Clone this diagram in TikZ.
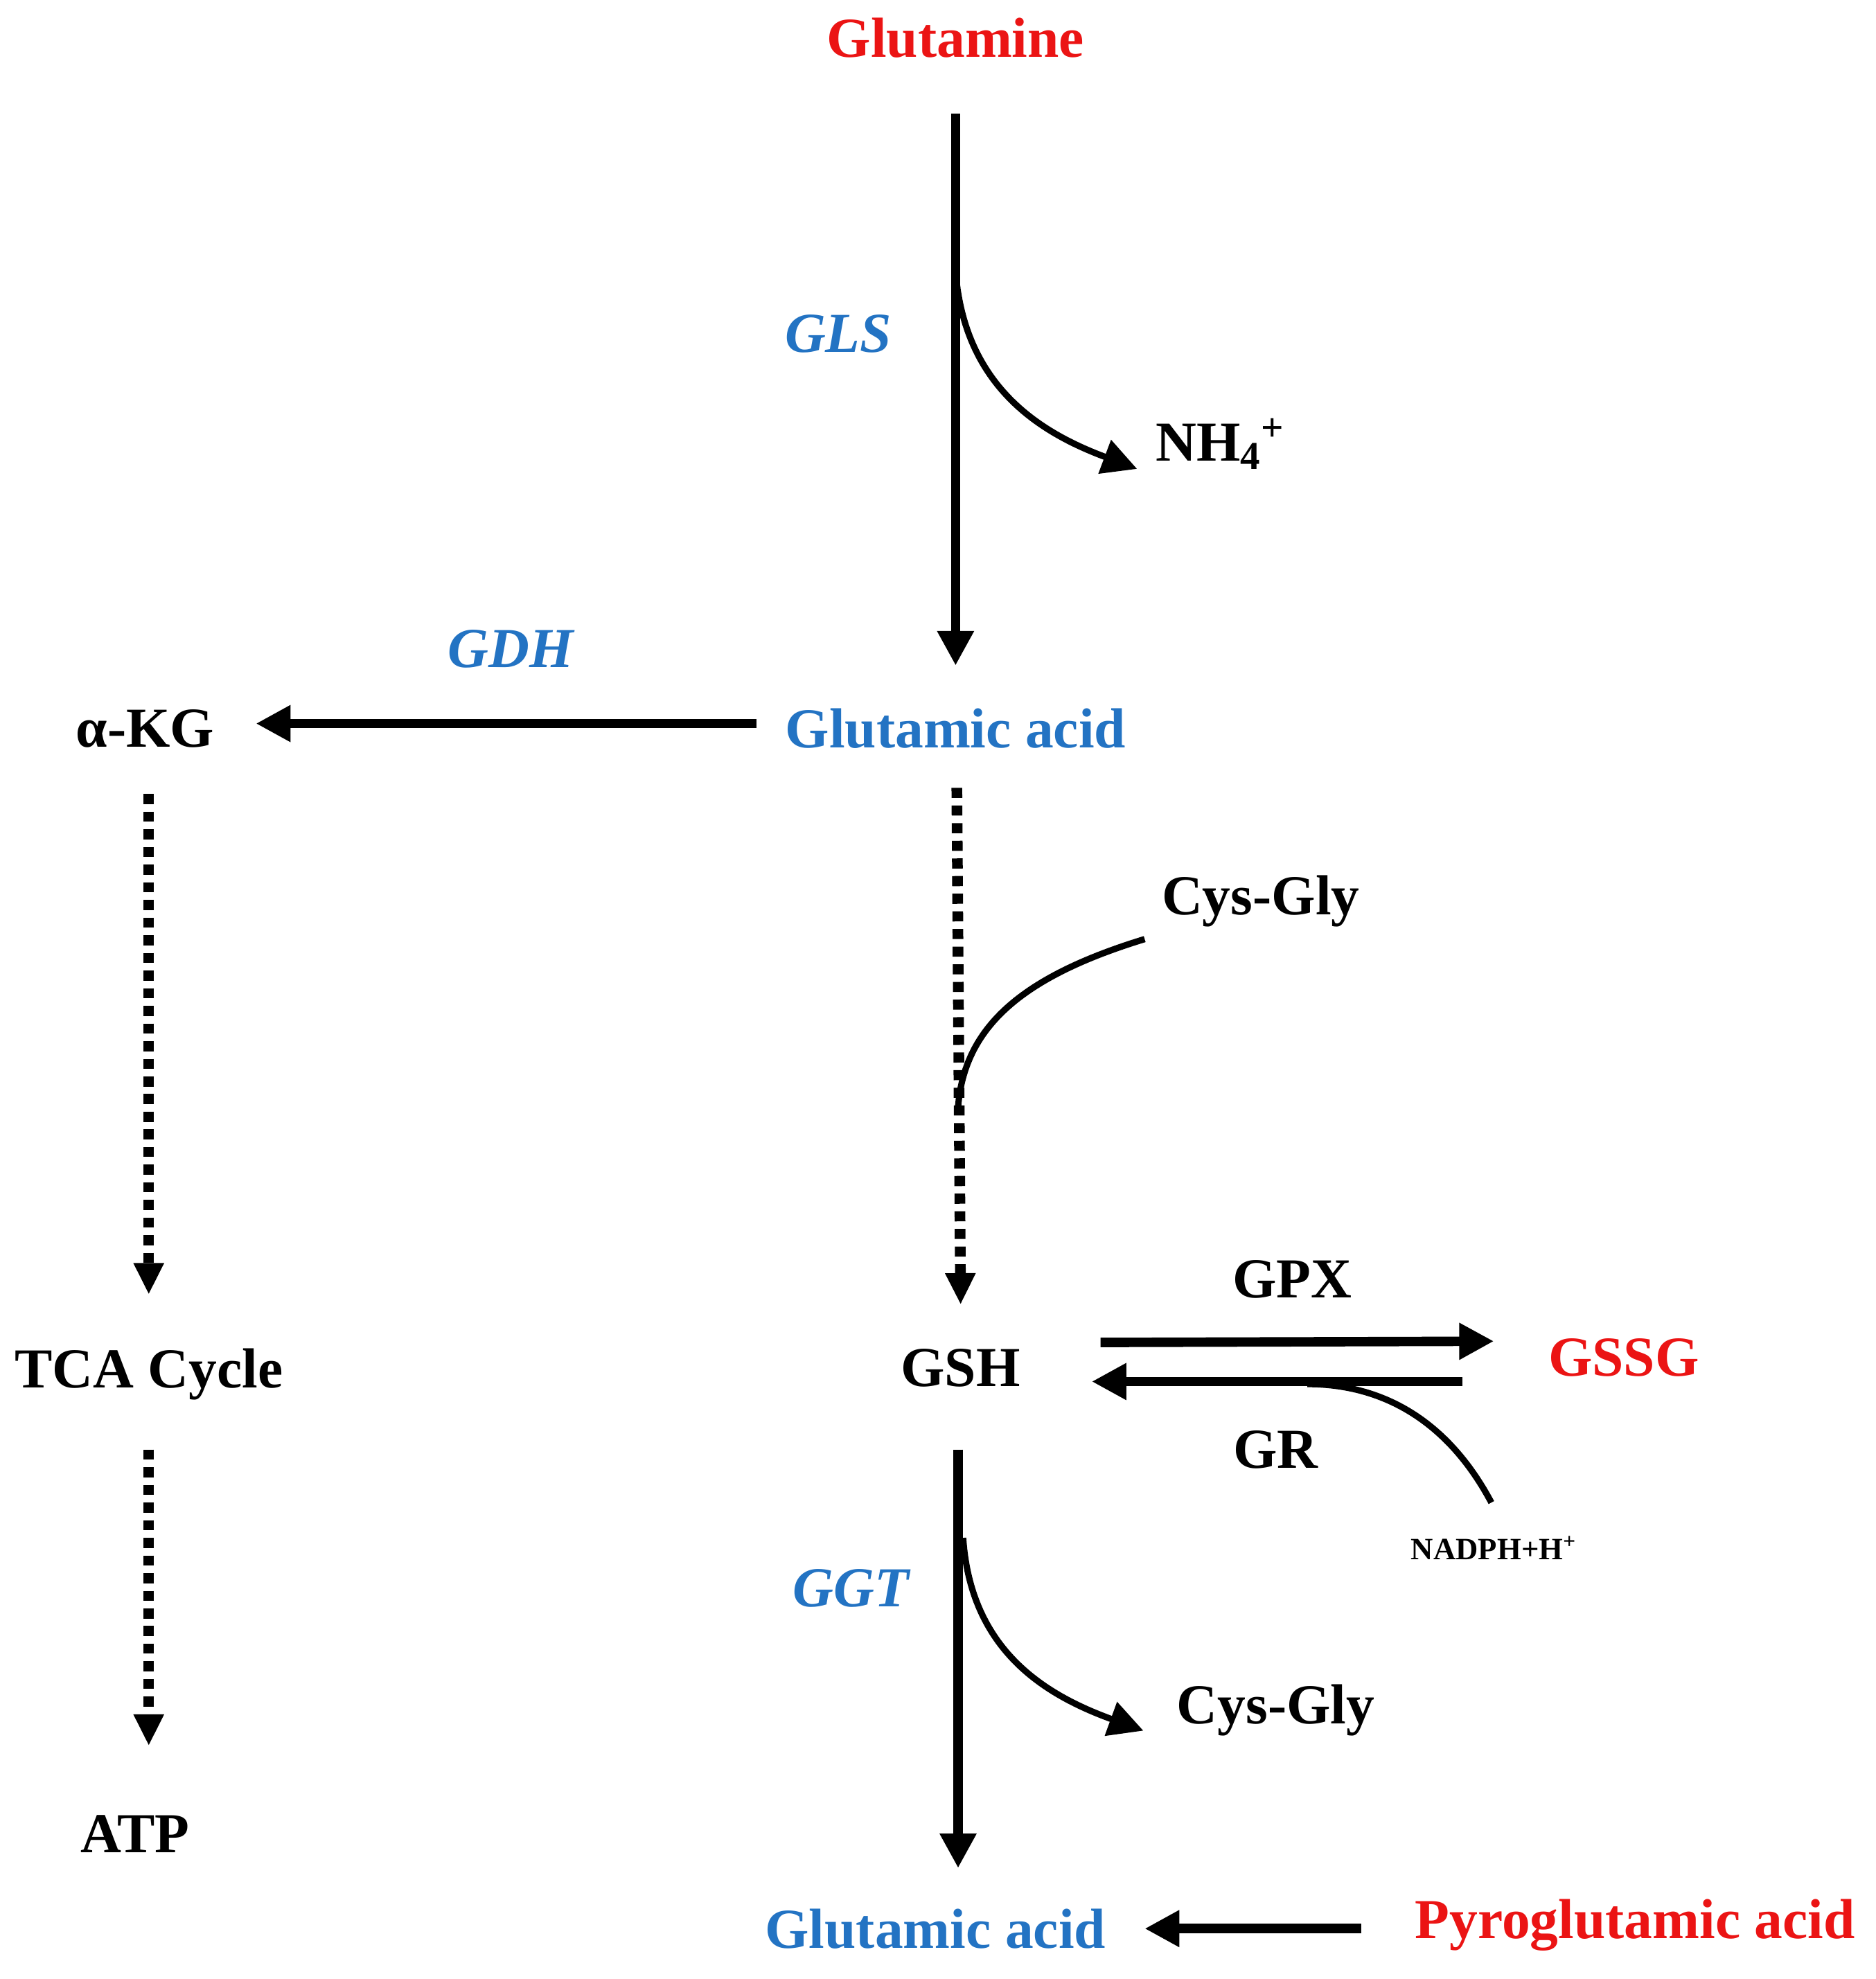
\documentclass[tikz,border=0pt]{standalone}
\usepackage{fontspec}
\setmainfont{Liberation Serif}
\usetikzlibrary{arrows.meta}
\definecolor{myred}{RGB}{235,20,20}
\definecolor{myblue}{RGB}{35,115,195}
\begin{document}
\begin{tikzpicture}[x=0.02cm,y=-0.02cm,
  lbl/.style={font=\fontsize{25.5}{28}\selectfont\bfseries},
  small/.style={font=\fontsize{14}{16}\selectfont\bfseries},
  enz/.style={font=\fontsize{25.5}{28}\selectfont\bfseries\itshape,text=myblue},
  ar/.style={line width=0.15cm,-{Triangle[length=0.55cm,width=0.55cm]}},
  ln/.style={line width=0.1cm},
  dt/.style={line width=0.17cm,dash pattern=on 0.16cm off 0.12cm,-{Triangle[length=0.5cm,width=0.45cm]}}]
\useasboundingbox (0,0) rectangle (1488,1570);
\node[lbl,text=myred] (gln) at (758,30) {Glutamine};
\coordinate (g1) at (758,90);
\coordinate (g2) at (758,528);
\coordinate (g3) at (758,215);
\draw[ar] (g1) -- (g2);
\node[lbl] (nh4) at (968,352) {NH\textsubscript{4}\textsuperscript{+}};
\coordinate (n1) at (902,372);
\draw[ln,-{Triangle[length=0.55cm,width=0.55cm]}] (g3) .. controls (765,310) and (830,345) .. (n1);
\node[enz] (gls) at (665,265) {GLS};
\node[lbl,text=myblue] (glu) at (758,578) {Glutamic acid};
\node[enz] (gdh) at (405,515) {GDH};
\node[lbl] (akg) at (115,578) {α-KG};
\coordinate (a1) at (600,574); \coordinate (a2) at (203,574);
\draw[ar] (a1) -- (a2);
\coordinate (t1) at (118,630); \coordinate (t2) at (118,1027);
\draw[dt] (t1) -- (t2);
\node[lbl] (tca) at (118,1090) {TCA Cycle};
\coordinate (t3) at (118,1150); \coordinate (t4) at (118,1385);
\draw[dt] (t3) -- (t4);
\node[lbl] (atp) at (107,1455) {ATP};
\coordinate (d1) at (759,625); \coordinate (d2) at (762,1035);
\draw[dt] (d1) -- (d2);
\node[lbl] (cg1) at (1000,715) {Cys-Gly};
\coordinate (c1) at (908,745); \coordinate (c2) at (760,878);
\draw[ln] (c1) .. controls (810,775) and (765,815) .. (c2);
\node[lbl] (gsh) at (762,1085) {GSH};
\node[lbl,text=myred] (gssg) at (1288,1077) {GSSG};
\node[lbl] (gpx) at (1025,1015) {GPX};
\node[lbl] (gr) at (1012,1150) {GR};
\coordinate (p1) at (873,1065); \coordinate (p2) at (1185,1064);
\draw[ar] (p1) -- (p2);
\coordinate (r1) at (1160,1096); \coordinate (r2) at (866,1096);
\draw[ar] (r1) -- (r2);
\node[small] (nadph) at (1185,1228) {NADPH+H\textsuperscript{+}};
\coordinate (n2) at (1183,1192); \coordinate (n3) at (1037,1098);
\draw[ln] (n2) .. controls (1150,1130) and (1100,1098) .. (n3);
\node[enz] (ggt) at (675,1260) {GGT};
\coordinate (s1) at (760,1150); \coordinate (s2) at (760,1482); \coordinate (s3) at (764,1220);
\draw[ar] (s1) -- (s2);
\node[lbl] (cg2) at (1012,1357) {Cys-Gly};
\coordinate (s4) at (907,1373);
\draw[ln,-{Triangle[length=0.55cm,width=0.55cm]}] (s3) .. controls (770,1310) and (830,1345) .. (s4);
\node[lbl,text=myblue] (glu2) at (742,1530) {Glutamic acid};
\node[lbl,text=myred] (pyro) at (1297,1527) {Pyroglutamic acid};
\coordinate (b1) at (1080,1530); \coordinate (b2) at (908,1530);
\draw[ar] (b1) -- (b2);
\end{tikzpicture}
\end{document}
